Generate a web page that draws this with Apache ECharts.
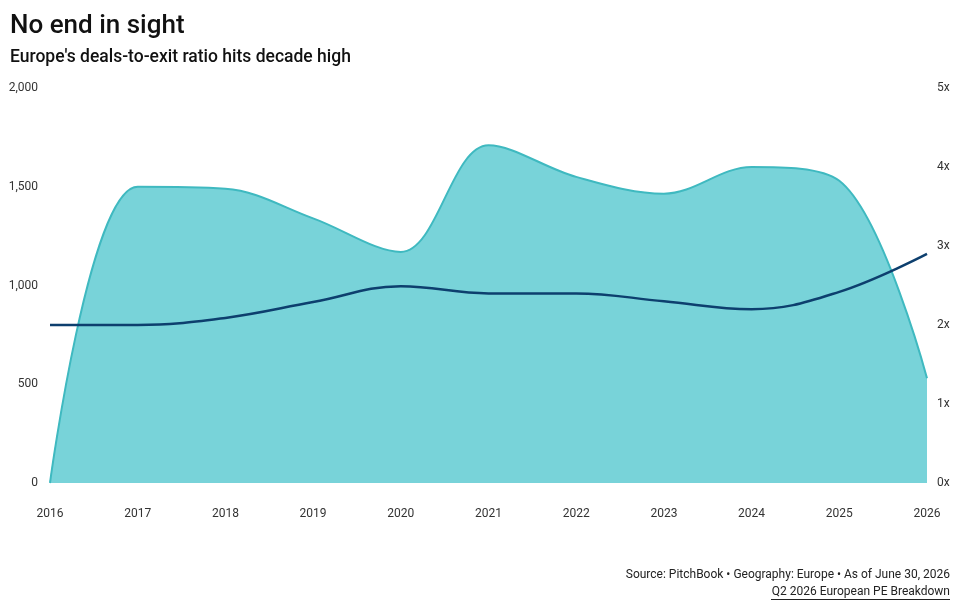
<!DOCTYPE html>
<html>
<head>
<meta charset="UTF-8">
<title>No end in sight</title>
<script src="https://cdn.jsdelivr.net/npm/echarts@6/dist/echarts.min.js"></script>
<style>
  html, body { margin: 0; padding: 0; background: #fff; }
  #main { width: 960px; height: 610px; }
</style>
</head>
<body>
<div id="main"></div>
<script type="text/javascript">
// data
var years = ['2016', '2017', '2018', '2019', '2020', '2021', '2022', '2023', '2024', '2025', '2026'];
var dealsToExits = [0, 1500, 1490, 1340, 1170, 1710, 1550, 1465, 1600, 1530, 530];
var ratio = [2.0, 2.0, 2.09, 2.29, 2.49, 2.4, 2.4, 2.3, 2.2, 2.42, 2.9];
var leftTicks = [0, 500, 1000, 1500, 2000];
var rightTicks = [0, 1, 2, 3, 4, 5];

var labelFont = 'Roboto, "Noto Sans", sans-serif';

var myChart = echarts.init(document.getElementById('main'));
var option = {
  animation: false,
  title: [{
    text: 'No end in sight',
    left: 10, top: 13, padding: 0,
    textStyle: { fontFamily: labelFont, fontSize: 26, fontWeight: 500, color: '#111' }
  }, {
    text: "Europe's deals-to-exit ratio hits decade high",
    left: 10, top: 49, padding: 0,
    textStyle: { fontFamily: labelFont, fontSize: 17.5, fontWeight: 500, color: '#111' }
  }, {
    text: 'Source: PitchBook • Geography: Europe • As of June 30, 2026',
    right: 10, top: 569, padding: 0,
    textStyle: { fontFamily: labelFont, fontSize: 12, fontWeight: 400, color: '#222' }
  }, {
    text: 'Q2 2026 European PE Breakdown',
    right: 10, top: 586, padding: 0,
    textStyle: { fontFamily: labelFont, fontSize: 12, fontWeight: 400, color: '#222' }
  }],
  // underline for the report link
  graphic: [{
    type: 'rect',
    right: 10, top: 599,
    shape: { width: 179, height: 1 },
    style: { fill: '#222' }
  }],
  grid: { left: 50, right: 33, top: 88, bottom: 127, containLabel: false },
  xAxis: {
    type: 'category',
    data: years,
    boundaryGap: false,
    axisLine: { show: false },
    axisTick: { show: false },
    axisLabel: { fontFamily: labelFont, fontSize: 12, color: '#333', margin: 25, interval: 0 }
  },
  yAxis: [{
    type: 'value',
    min: leftTicks[0], max: leftTicks[leftTicks.length - 1], interval: 500,
    splitLine: { show: false },
    axisLine: { show: false },
    axisTick: { show: false },
    axisLabel: {
      fontFamily: labelFont, fontSize: 12, color: '#333', margin: 12,
      formatter: function (v) { return v.toLocaleString('en-US'); }
    }
  }, {
    type: 'value',
    position: 'right',
    min: rightTicks[0], max: rightTicks[rightTicks.length - 1], interval: 1,
    splitLine: { show: false },
    axisLine: { show: false },
    axisTick: { show: false },
    axisLabel: {
      fontFamily: labelFont, fontSize: 12, color: '#333', margin: 10,
      formatter: function (v) { return v + 'x'; }
    }
  }],
  series: [{
    name: 'Deals to exits',
    type: 'line',
    data: dealsToExits,
    yAxisIndex: 0,
    smooth: 0.35,
    symbol: 'none',
    lineStyle: { color: '#3fb9c0', width: 2 },
    areaStyle: { color: '#78d3d9', opacity: 1 }
  }, {
    name: 'Ratio',
    type: 'line',
    data: ratio,
    yAxisIndex: 1,
    smooth: 0.4,
    symbol: 'none',
    lineStyle: { color: '#0d3f6e', width: 2.5 }
  }]
};
myChart.setOption(option);
</script>
</body>
</html>
